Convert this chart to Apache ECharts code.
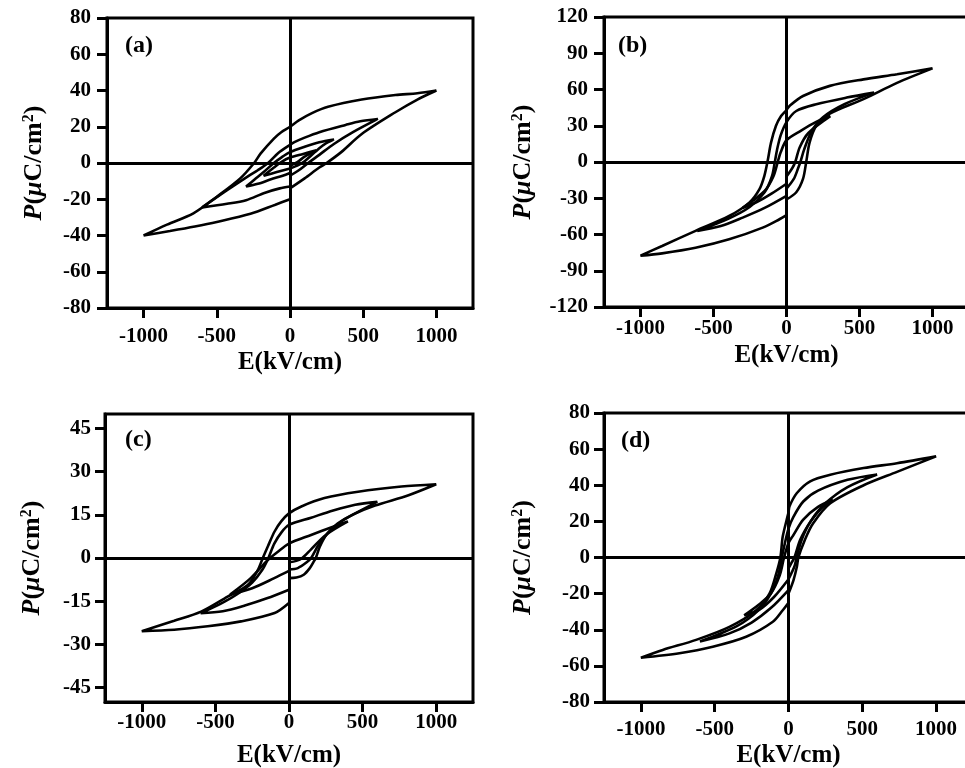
<!DOCTYPE html>
<html>
<head>
<meta charset="utf-8">
<script src="https://cdn.jsdelivr.net/npm/echarts@6/dist/echarts.min.js"></script>
<style>html,body{margin:0;padding:0;background:#fff;}#c{width:965px;height:768px;}</style>
</head>
<body>
<div id="c"></div>
<script>
// ---- data: P-E hysteresis loops, [E (kV/cm), P (uC/cm^2)] ----
const xTicks = [-1000, -500, 0, 500, 1000];
const yTicksA = [-80, -60, -40, -20, 0, 20, 40, 60, 80];
const yTicksB = [-120, -90, -60, -30, 0, 30, 60, 90, 120];
const yTicksC = [-45, -30, -15, 0, 15, 30, 45];
const yTicksD = [-80, -60, -40, -20, 0, 20, 40, 60, 80];
const panelLabels = ['(a)', '(b)', '(c)', '(d)'];
const xName = 'E(kV/cm)';

const a1 = [[0,-14],[100,-8.5],[200,-2.5],[250,0],[350,6],[490,16],[720,28],[870,35],[1000,40],[870,38.5],[720,37.5],[490,35],[260,31],[150,27.5],[60,23.5],[0,20],[-60,17],[-110,13.5],[-200,5.3],[-245,0],[-340,-8.5],[-500,-18.6],[-660,-27.8],[-840,-34],[-1000,-40],[-820,-37.5],[-650,-35],[-500,-32.5],[-270,-28],[-100,-23],[0,-20]];
const a2 = [[0,-7],[60,-4],[124,0],[200,4.5],[300,10.5],[430,17],[600,24.3],[480,23],[380,21],[200,17],[100,14],[30,11.5],[0,10],[-80,5.5],[-150,0],[-220,-4],[-290,-7.5],[-430,-15],[-600,-24.5],[-430,-22.5],[-300,-20.5],[-175,-16.5],[-70,-14],[0,-13]];
const a3 = [[0,-3],[60,-1],[100,1],[170,6],[230,10],[300,13],[200,11.5],[100,9],[0,6],[-60,3],[-110,0],[-180,-5],[-240,-9],[-300,-13],[-220,-11.5],[-130,-9],[-50,-7],[0,-5.5]];
const a4 = [[0,-1.5],[50,0.5],[100,3.5],[180,7],[90,5],[0,3],[-60,0.5],[-110,-2.5],[-180,-7],[-90,-5],[0,-3]];

const b1 = [[0,-31],[67,-25],[113,-14],[135,0],[158,16],[204,30],[297,40],[527,52],[757,65.5],[1000,77.5],[757,72.6],[527,68.4],[297,63],[113,54.6],[21,46.4],[0,43],[-37,38],[-72,30],[-106,16],[-129,1],[-152,-11.6],[-186,-22.6],[-255,-33.6],[-393,-44.7],[-623,-57],[-852,-69.5],[-1000,-77.5],[-852,-75.6],[-623,-71],[-393,-64],[-163,-54.3],[-48,-47.4],[0,-44]];
const b2 = [[0,-22],[50,-14],[80,-5],[95,0],[120,10],[170,25],[250,37],[400,48],[600,57.4],[412,53.3],[204,47.8],[67,42.2],[0,33],[-40,22],[-65,10],[-80,0],[-100,-12],[-150,-25],[-250,-37],[-400,-47],[-611,-57],[-450,-53],[-300,-46],[-150,-38],[0,-28]];
const b3 = [[0,-12],[40,-5],[60,0],[90,12],[150,24],[300,38],[200,33],[100,26],[0,18],[-40,8],[-60,0],[-90,-12],[-150,-24],[-300,-38],[-200,-33],[-100,-26],[0,-18]];

const c1 = [[0,-7],[50,-6.8],[100,-5.8],[140,-3.6],[165,-1.5],[182,0],[210,4],[260,8.5],[330,12],[430,15],[584,18.2],[812,21.8],[1000,25.6],[764,24.8],[469,23],[241,20.8],[84,17.9],[0,15.5],[-53,12.7],[-98,9.2],[-144,4],[-178,0],[-212,-4.2],[-280,-9.4],[-417,-13.4],[-597,-18.6],[-780,-21.8],[-1000,-25.4],[-780,-24.9],[-553,-23.7],[-326,-22],[-98,-19.1],[0,-15.6]];
const c2 = [[0,-4],[60,-3.5],[120,-1.5],[150,0],[200,4.5],[270,9],[350,12.5],[450,15.5],[600,19.5],[450,18.5],[300,16.5],[150,14],[0,11.5],[-50,9],[-100,5],[-140,0],[-180,-4],[-250,-8.5],[-350,-12.5],[-450,-15.5],[-600,-19.2],[-450,-18.5],[-300,-16.5],[-150,-14],[0,-11]];
const c3 = [[0,-1.5],[50,-1],[90,0],[150,3],[250,8],[400,12.7],[290,10.7],[150,8],[0,5],[-80,2],[-150,-1],[-260,-7],[-400,-12.7],[-250,-10.5],[-100,-7],[0,-4.5]];

const d1 = [[0,-20],[34,-12.5],[57,-5],[67,0],[110,9.6],[166,18.8],[283,30],[509,40],[735,47.4],[1000,56],[735,52.2],[509,49.5],[283,45.8],[147,42.2],[57,35.7],[7,28.4],[0,25],[-39,11.6],[-55,0],[-83,-8.9],[-129,-20],[-219,-29.2],[-400,-38.4],[-626,-45.6],[-852,-51.2],[-1000,-55.5],[-739,-53],[-513,-49.4],[-287,-43.9],[-106,-35.6],[-39,-29.2],[0,-25]];
const d2 = [[0,-12],[40,-5],[55,0],[90,10],[150,20],[250,30],[400,39],[600,46],[400,43],[200,37],[100,31],[30,22],[0,16],[-30,6],[-45,0],[-70,-10],[-120,-20],[-200,-29],[-350,-38],[-600,-46.5],[-400,-42],[-250,-36],[-120,-28],[0,-18]];
const d3 = [[0,-6],[20,-3],[40,0],[80,10],[150,20],[220,27],[300,32],[200,28],[100,21],[30,12],[0,8],[-30,0],[-60,-10],[-120,-20],[-200,-26],[-300,-32],[-200,-29],[-100,-22],[0,-12]];

// ---- layout ----
const FONT = '"Liberation Serif", "Times New Roman", serif';
const panels = [
  {loops:[a1,a2,a3,a4], yTicks:yTicksA, yMin:-80, yMax:80, grid:{left:107,top:18,width:366,height:290}, xMargin:18, yMargin:16, xGap:42, yGap:60, lab:[125,34]},
  {loops:[b1,b2,b3], yTicks:yTicksB, yMin:-120, yMax:120, grid:{left:604,top:17,width:365,height:290}, xMargin:11, yMargin:16, xGap:36, yGap:68, lab:[618,34]},
  {loops:[c1,c2,c3], yTicks:yTicksC, yMin:-50, yMax:50, grid:{left:105,top:414,width:368,height:288}, xMargin:10, yMargin:14, xGap:41, yGap:60, lab:[125,428]},
  {loops:[d1,d2,d3], yTicks:yTicksD, yMin:-80, yMax:80, grid:{left:604,top:413,width:369,height:289}, xMargin:17, yMargin:14, xGap:41, yGap:68, lab:[621,429]}
];

const grids = [], xAxes = [], yAxes = [], series = [], graphics = [];
const black = '#000';
const plain = v => String(v);
panels.forEach((p, i) => {
  grids.push(Object.assign({show:true, borderColor:black, borderWidth:3, backgroundColor:'transparent', outerBoundsMode:'none', containLabel:false}, p.grid));
  xAxes.push({
    type:'value', gridIndex:i, min:-1250, max:1250,
    name:xName, nameLocation:'middle', nameGap:p.xGap,
    nameTextStyle:{fontFamily:FONT, fontWeight:'bold', fontSize:25, color:black},
    axisLine:{show:true, onZero:false, lineStyle:{color:black, width:3}},
    axisTick:{show:true, length:10, lineStyle:{color:black, width:3}, customValues:xTicks},
    axisLabel:{fontFamily:FONT, fontWeight:'bold', fontSize:21, color:black, margin:p.xMargin, customValues:xTicks, formatter:plain},
    splitLine:{show:false}
  });
  yAxes.push({
    type:'value', gridIndex:i, min:p.yMin, max:p.yMax,
    name:'{i|P}{n|(}{i|\u03bc}{n|C/cm}{s|2}{n|)}', nameLocation:'middle', nameGap:p.yGap,
    nameTextStyle:{fontFamily:FONT, fontWeight:'bold', fontSize:26, color:black,
      rich:{
        i:{fontFamily:FONT, fontWeight:'bold', fontStyle:'italic', fontSize:26, color:black},
        n:{fontFamily:FONT, fontWeight:'bold', fontSize:26, color:black},
        s:{fontFamily:FONT, fontWeight:'bold', fontSize:16, color:black, verticalAlign:'top', lineHeight:16}
      }},
    axisLine:{show:true, onZero:false, lineStyle:{color:black, width:3}},
    axisTick:{show:true, length:10, lineStyle:{color:black, width:3}, customValues:p.yTicks},
    axisLabel:{fontFamily:FONT, fontWeight:'bold', fontSize:21, color:black, margin:p.yMargin, customValues:p.yTicks, formatter:plain},
    splitLine:{show:false}
  });
  p.loops.forEach((loop, j) => {
    const s = {
      type:'line', xAxisIndex:i, yAxisIndex:i, data:loop, smooth:0.3,
      showSymbol:false, symbol:'none', silent:true,
      lineStyle:{color:black, width:2.6}, z:3
    };
    if (j === 0) {
      s.markLine = {silent:true, symbol:['none','none'], label:{show:false},
        lineStyle:{color:black, width:3, type:'solid'}, data:[{xAxis:0},{yAxis:0}], animation:false};
    }
    series.push(s);
  });
  graphics.push({type:'text', left:p.lab[0], top:p.lab[1],
    style:{text:panelLabels[i], font:'bold 24px ' + FONT, fill:black}});
});

const chart = echarts.init(document.getElementById('c'), null, {renderer:'canvas'});
chart.setOption({
  animation:false,
  backgroundColor:'#fff',
  grid:grids, xAxis:xAxes, yAxis:yAxes, series:series, graphic:graphics
});
</script>
</body>
</html>
